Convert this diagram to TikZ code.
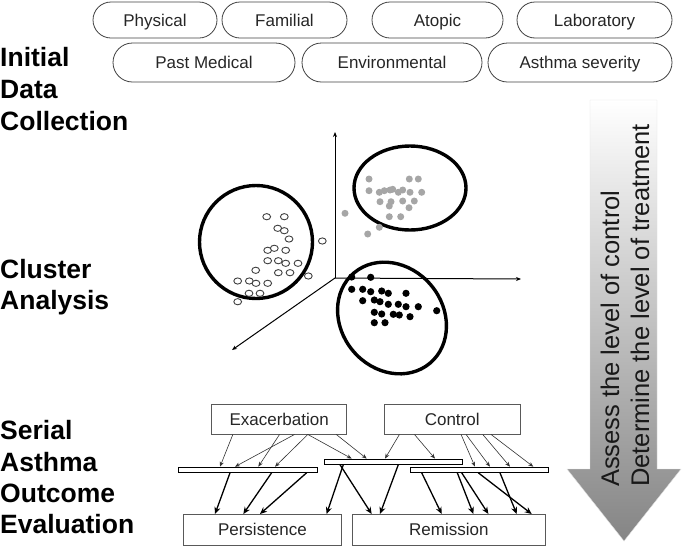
\documentclass[tikz,border=0pt]{standalone}
\usepackage{fontspec}
\setmainfont{Liberation Sans}
\usetikzlibrary{shapes.misc,arrows.meta}
\begin{document}
\begin{tikzpicture}[x=1pt,y=-1pt,
  pill/.style={draw=black!75, line width=0.8pt, rounded rectangle, minimum height=36pt, inner sep=0pt, text height=12pt, text depth=0pt, font=\fontsize{17}{20}\selectfont, text=black!85},
  outbox/.style={draw=black!65, line width=0.9pt, fill=white, minimum height=30pt, inner sep=0pt, text height=12pt, text depth=0pt, font=\fontsize{17}{20}\selectfont, text=black!85},
  bar/.style={draw=black, line width=1.1pt, fill=white, inner sep=0pt, minimum height=5pt},
  steplabel/.style={font=\fontsize{26.5}{30}\selectfont\bfseries, anchor=base west, inner sep=0pt},
  thinarr/.style={draw=black!80, line width=0.6pt, -{Stealth[length=5pt,width=4pt]}},
  thickarr/.style={draw=black, line width=1.3pt, -{Stealth[length=7pt,width=6pt]}},
  axis/.style={draw=black, line width=1pt, -{Stealth[length=5pt,width=4pt]}},
  rim/.style={draw=black, line width=3.4pt},
  opendot/.style={draw=black!75, line width=0.9pt, fill=white},
  greydot/.style={fill=black!35},
  blackdot/.style={fill=black}
]
\useasboundingbox (0,0) rectangle (685,555);

% top pills
\node[pill, minimum width=124pt] (phys) at (155,20) {Physical};
\node[pill, minimum width=125pt] (fam) at (284.5,20) {Familial};
\node[pill, minimum width=131pt] (atop) at (437.5,20) {Atopic};
\node[pill, minimum width=155pt] (lab) at (594.5,20) {Laboratory};
\node[pill, minimum width=182pt, minimum height=39pt] (past) at (204,62.5) {Past Medical};
\node[pill, minimum width=180pt, minimum height=39pt] (env) at (392,62.5) {Environmental};
\node[pill, minimum width=184pt, minimum height=39pt] (sev) at (580,62.5) {Asthma severity};

% left step labels
\node[steplabel] (l1a) at (0,66) {Initial};
\node[steplabel] (l1b) at (0,98.5) {Data};
\node[steplabel] (l1c) at (0,130.5) {Collection};
\node[steplabel] (l2a) at (0,278) {Cluster};
\node[steplabel] (l2b) at (0,309) {Analysis};
\node[steplabel] (l3a) at (0,439) {Serial};
\node[steplabel] (l3b) at (0,471) {Asthma};
\node[steplabel] (l3c) at (0,502.5) {Outcome};
\node[steplabel] (l3d) at (0,533.5) {Evaluation};

% big arrow
\shade[top color=white, bottom color=black!48, draw=black!12, line width=0.4pt]
  (590,100) -- (657,100) -- (657,469) -- (681,469) -- (624,541) -- (567,469) -- (590,469) -- cycle;
\node[rotate=90, anchor=base west, inner sep=0pt, font=\fontsize{25.5}{30}\selectfont, text=black!90] (t1) at (619,487) {Assess the level of control};
\node[rotate=90, anchor=base west, inner sep=0pt, font=\fontsize{25.5}{30}\selectfont, text=black!90] (t2) at (649,487) {Determine the level of treatment};

% axes
\coordinate (o) at (335,278);
\coordinate (ytip) at (335,132);
\coordinate (xtip) at (521,279);
\coordinate (ztip) at (232,350);
\draw[axis] (o) -- (ytip);
\draw[axis] (o) -- (xtip);
\draw[axis] (o) -- (ztip);

% clusters
\draw[rim] (256,242) circle[radius=56.5];
\draw[rim] (410,188) ellipse[x radius=56, y radius=42];
\draw[rim, shift={(392,318)}, rotate=-50] (0,0) ellipse[x radius=59, y radius=51];

\foreach \p in {(266.7,216.7),(284.3,216.7),(277.7,228.3),(284.3,230.7),(289,239),(322.3,241),
  (267.7,250.3),(274.3,248.3),(285.7,250.3),(267.7,260.7),(278.3,260.7),(285.7,263.3),(298,263.3),
  (255.7,270.3),(278.3,272.7),(290,272.7),(308.3,276),(237.7,281),(249.3,281),(256,283.3),
  (267.7,283.3),(249,293.3),(260,293.3),(237.7,301.7)}
  \draw[opendot] \p ellipse[x radius=3.9, y radius=3.1];

\foreach \p in {(369,179),(409.3,179),(418.3,179),(369,190.7),(379.3,192.3),(384.3,190.7),(390,190),
  (392.7,189.3),(398.3,192.3),(402.7,190),(410,192.3),(421.7,192.3),(380,201.7),(391,201.7),
  (402.7,201),(414.3,201),(389.3,206),(409,207.7),(345,213.3),(389.3,216.7),(400.7,216.7),
  (379.3,227.3),(367.7,234)}
  \fill[greydot] \p circle[radius=3.5];

\foreach \p in {(351.7,277),(370.7,277.3),(351.7,289.3),(362.7,289.3),(370.7,291.7),(381.7,291),
  (388.3,293.3),(406,293.3),(362.7,300.7),(374.3,300),(380,301.7),(388.3,304.3),(398.3,304.3),
  (406,306.7),(418.3,306.7),(436.7,310.7),(374.3,312.3),(381.7,314),(393.3,314.3),(399.3,315),
  (410,316.7),(374.3,322.7),(385,322.7)}
  \fill[blackdot] \p circle[radius=3.6];

% outcome evaluation
\node[outbox, minimum width=135pt] (exa) at (279.2,419) {Exacerbation};
\node[outbox, minimum width=136pt] (ctl) at (452.2,419) {Control};
\node[bar, minimum width=138.4pt, anchor=north west] (b1) at (178.3,466.7) {};
\node[bar, minimum width=137.7pt, anchor=north west] (b2) at (324,458.6) {};
\node[bar, minimum width=138.3pt, anchor=north west] (b3) at (410,466.7) {};
\node[outbox, minimum width=157.4pt, minimum height=31pt, anchor=north west] (per) at (183.3,514) {Persistence};
\node[outbox, minimum width=193.3pt, minimum height=31pt, anchor=north west] (rem) at (351.7,514) {Remission};

% thin arrows from Exacerbation
\draw[thinarr] ([xshift=21.6pt]exa.south west) -- ([xshift=41.7pt]b1.north west);
\draw[thinarr] ([xshift=68.3pt]exa.south west) -- ([xshift=80pt]b1.north west);
\draw[thinarr] ([xshift=83.3pt]exa.south west) -- ([xshift=56.7pt]b1.north west);
\draw[thinarr] ([xshift=96.6pt]exa.south west) -- ([xshift=96.7pt]b1.north west);
\draw[thinarr] ([xshift=96.6pt]exa.south west) -- ([xshift=27.7pt]b2.north west);
\draw[thinarr] ([xshift=125pt]exa.south west) -- ([xshift=42.7pt]b2.north west);
% thin arrows from Control
\draw[thinarr] ([xshift=15.7pt]ctl.south west) -- ([xshift=61pt]b2.north west);
\draw[thinarr] ([xshift=30.7pt]ctl.south west) -- ([xshift=111pt]b2.north west);
\draw[thinarr] ([xshift=77.3pt]ctl.south west) -- ([xshift=65pt]b3.north west);
\draw[thinarr] ([xshift=82.3pt]ctl.south west) -- ([xshift=80pt]b3.north west);
\draw[thinarr] ([xshift=99pt]ctl.south west) -- ([xshift=100pt]b3.north west);
\draw[thinarr] ([xshift=107.3pt]ctl.south west) -- ([xshift=123.3pt]b3.north west);

% thick arrows to outcomes
\draw[thickarr] ([xshift=51.7pt]b1.south west) -- ([xshift=31.7pt]per.north west);
\draw[thickarr] ([xshift=93.3pt]b1.south west) -- ([xshift=60pt]per.north west);
\draw[thickarr] ([xshift=128.3pt]b1.south west) -- ([xshift=76.7pt]per.north west);
\draw[thickarr] ([xshift=19.3pt]b2.south west) -- ([xshift=143.3pt]per.north west);
\draw[thickarr] ([xshift=16pt]b2.south west) -- ([xshift=20pt]rem.north west);
\draw[thickarr] ([xshift=74.3pt]b2.south west) -- ([xshift=28.3pt]rem.north west);
\draw[thickarr] ([xshift=11.7pt]b3.south west) -- ([xshift=90pt]rem.north west);
\draw[thickarr] ([xshift=47.3pt]b3.south west) -- ([xshift=121.7pt]rem.north west);
\draw[thickarr] ([xshift=51.7pt]b3.south west) -- ([xshift=136.7pt]rem.north west);
\draw[thickarr] ([xshift=68.3pt]b3.south west) -- ([xshift=180pt]rem.north west);
\draw[thickarr] ([xshift=90pt]b3.south west) -- ([xshift=165pt]rem.north west);
\end{tikzpicture}
\end{document}
